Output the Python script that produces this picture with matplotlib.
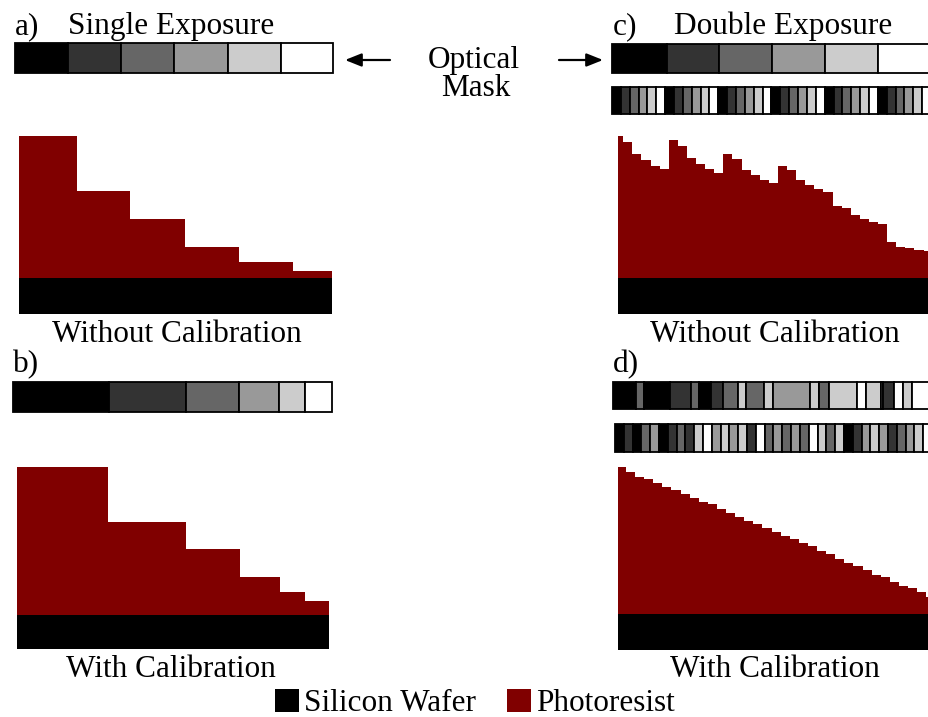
import numpy as np
import matplotlib.pyplot as plt

W, H = 929, 717
RESIST = '#800000'
grays = ['#000000', '#333333', '#666666', '#999999', '#cccccc', '#ffffff']

# a) single exposure, no calibration
a_mask_edges = [15, 68, 121, 174, 228, 281, 333]
a_mask_colors = grays
a_edges = [19, 77, 130, 185, 239, 293, 332]
a_thick = [142, 87, 59, 31, 16, 7]

# b) single exposure, calibrated mask widths
b_mask_edges = [13, 109, 186, 239, 279, 305, 332]
b_mask_colors = grays
b_edges = [17, 108, 186, 240, 280, 305, 329]
b_thick = [148, 93, 66, 38, 23, 14]

# c) double exposure, no calibration
c_top_edges = [612, 667, 719, 772, 825, 878, 931]
c_top_colors = grays
c_stripe_colors = grays * 6
c_thick = [141.7, 136.0, 123.7, 118.0, 112.3, 108.7,
           137.7, 132.0, 119.7, 113.7, 109.0, 104.7,
           124.3, 119.0, 108.3, 102.7, 98.0, 95.3,
           112.3, 107.7, 97.7, 92.7, 89.0, 85.7,
           72.3, 69.7, 62.7, 59.0, 56.0, 54.0,
           35.7, 31.3, 29.7, 28.0, 26.7]

# d) double exposure, calibrated
d_top_edges = [613, 636, 644, 670, 691, 699, 711, 723, 738, 746, 764, 773,
               810, 819, 829, 857, 866, 881, 883, 894, 903, 912, 935]
d_top_colors = ['#000000', '#666666', '#000000', '#333333', '#666666', '#000000',
                '#333333', '#666666', '#cccccc', '#666666', '#cccccc', '#999999',
                '#cccccc', '#666666', '#cccccc', '#ffffff', '#cccccc', '#ffffff',
                '#333333', '#ffffff', '#cccccc', '#ffffff']
d_low_colors = ['#000000', '#333333', '#000000', '#666666', '#999999', '#000000',
                '#333333', '#666666', '#333333', '#cccccc', '#ffffff', '#999999',
                '#cccccc', '#999999', '#cccccc', '#333333', '#ffffff', '#666666',
                '#999999', '#666666', '#999999', '#666666', '#ffffff', '#cccccc',
                '#666666', '#cccccc', '#000000', '#333333', '#999999', '#cccccc',
                '#999999', '#333333', '#666666', '#999999', '#cccccc', '#ffffff']
d_thick = [146.7, 141.7, 137.0, 134.7, 130.7, 127.0, 123.7, 120.3, 116.0,
           112.3, 109.7, 104.7, 101.0, 97.0, 92.7, 89.7, 85.7, 82.0, 78.3,
           75.0, 70.7, 67.7, 62.7, 59.7, 54.7, 51.0, 47.7, 44.0, 39.3,
           36.7, 31.7, 28.0, 25.7, 21.7, 16.7]

fig = plt.figure(figsize=(W / 100, H / 100), dpi=100)
ax = fig.add_axes([0, 0, 1, 1])
ax.set_xlim(0, W)
ax.set_ylim(H, 0)
ax.axis('off')

font = dict(family='Liberation Serif', size=22.5, color='black')


def mask(edges, colors, top, bottom):
    edges = np.asarray(edges, dtype=float)
    ax.bar(edges[:-1], bottom - top, width=np.diff(edges), bottom=top,
           align='edge', color=colors, edgecolor='black', linewidth=1.3)


def profile(edges, thick, base, si_height, si_end):
    edges = np.asarray(edges, dtype=float)
    thick = np.asarray(thick, dtype=float)
    ax.bar(edges[0], si_height, width=si_end - edges[0], bottom=base,
           align='edge', color='black', linewidth=0)
    ax.bar(edges[:-1], thick, width=np.diff(edges), bottom=base - thick,
           align='edge', color=RESIST, linewidth=0)


# masks
mask(a_mask_edges, a_mask_colors, 43, 73)
mask(b_mask_edges, b_mask_colors, 382, 412)
mask(c_top_edges, c_top_colors, 44, 73)
c_low_edges = np.linspace(612, 931, len(c_stripe_colors) + 1)
mask(c_low_edges, c_stripe_colors, 87, 114)
mask(d_top_edges, d_top_colors, 382, 409)
d_low_edges = np.linspace(615, 932, len(d_low_colors) + 1)
mask(d_low_edges, d_low_colors, 424, 452)

# resist profiles on the wafer
profile(a_edges, a_thick, 278, 36, a_edges[-1])
profile(b_edges, b_thick, 615, 34, b_edges[-1])
c_edges = np.concatenate([[618], 623.3 + 9.1 * np.arange(len(c_thick))])
profile(c_edges, c_thick, 278, 36, 945)
d_edges = np.concatenate([[618], 626 + 9.1 * np.arange(len(d_thick))])
profile(d_edges, d_thick, 614, 36, 945)

# labels
ax.text(15, 34, 'a)', **font)
ax.text(68, 34, 'Single Exposure', **font)
ax.text(613, 34, 'c)', **font)
ax.text(674, 34, 'Double Exposure', **font)
ax.text(13, 372, 'b)', **font)
ax.text(613, 372, 'd)', **font)
ax.text(474, 68, 'Optical', ha='center', **font)
ax.text(476, 96, 'Mask', ha='center', **font)
ax.text(177, 342, 'Without Calibration', ha='center', **font)
ax.text(775, 342, 'Without Calibration', ha='center', **font)
ax.text(171, 677, 'With Calibration', ha='center', **font)
ax.text(775, 677, 'With Calibration', ha='center', **font)

arrow = dict(arrowstyle='-|>,head_length=0.55,head_width=0.22', color='black',
             lw=1.6, mutation_scale=18, shrinkA=0, shrinkB=0)
ax.annotate('', xy=(345, 60), xytext=(390, 60), arrowprops=arrow)
ax.annotate('', xy=(603, 60), xytext=(559, 60), arrowprops=arrow)

# legend
legend_x = [275, 507]
legend_colors = ['black', RESIST]
legend_labels = ['Silicon Wafer', 'Photoresist']
ax.bar(legend_x, 23, width=24, bottom=689, align='edge',
       color=legend_colors, linewidth=0)
for x, lab in zip(legend_x, legend_labels):
    ax.text(x + 29, 711, lab, **font)

fig.savefig('out.png', dpi=100)
